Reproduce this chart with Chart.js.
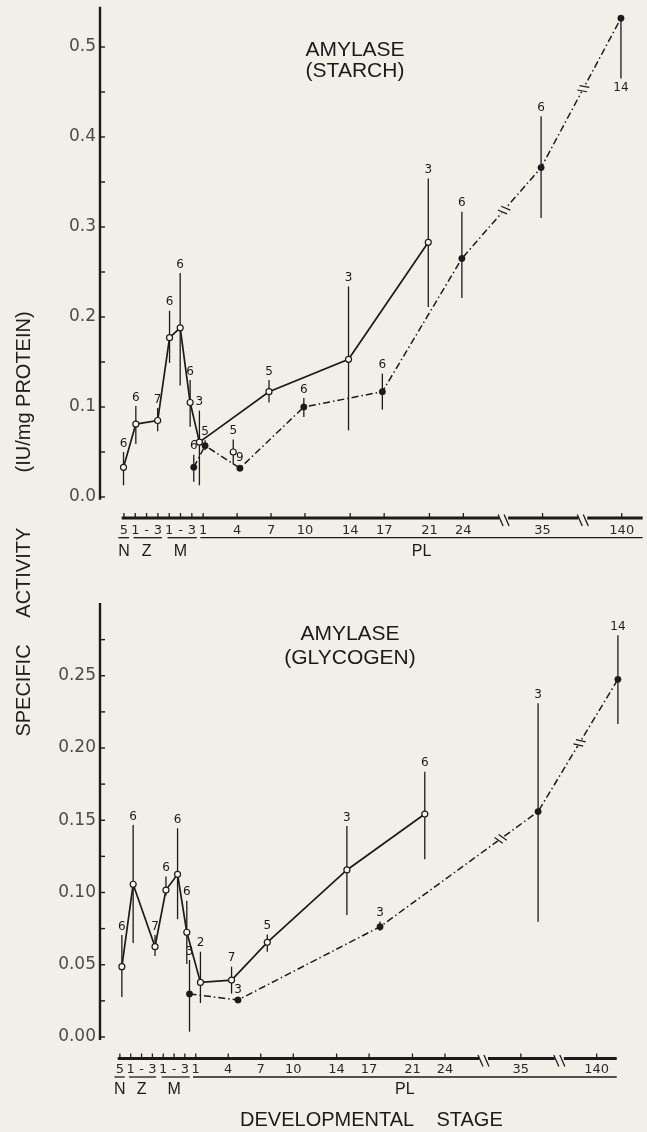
<!DOCTYPE html>
<html>
<head>
<meta charset="utf-8">
<script src="https://cdn.jsdelivr.net/npm/chart.js@4.4.1/dist/chart.umd.min.js"></script>
<style>
html,body{margin:0;padding:0;background:#f2efe9;}
body{width:647px;height:1132px;position:relative;overflow:hidden;}
canvas{position:absolute;left:0;background:#f2efe9;}
#c1{top:0;}
#c2{top:565px;}
#ytitle{position:absolute;left:-197px;top:514px;width:440px;height:20px;line-height:20px;
  font-family:"Liberation Sans",Arial,sans-serif;font-size:20px;color:#1d1d1d;text-align:center;
  white-space:pre;transform:rotate(-90deg);z-index:5;}
</style>
</head>
<body>
<canvas id="c1" width="647" height="565"></canvas>
<canvas id="c2" width="647" height="567"></canvas>
<div id="ytitle">SPECIFIC     ACTIVITY          (IU/mg PROTEIN)</div>
<script>
// ---------------- data ----------------
// developmental stage axis (categories and their stage coordinate)
const stageLabels = ['5','1','-','3','1','-','3','1','4','7','10','14','17','21','24','35','140'];
const stagePos    = [0,1,2,3,4,5,6,7,10,13,16,20,23,27,30,37,44];
const groupNames  = ['N','Z','M','PL'];
const groupStart  = [-0.5,0.85,3.85,6.75];
const groupEnd    = [0.45,3.35,6.45,45.85];
const groupCentre = [0,2,5,26.3];
const axisBreaks  = [33.6,40.6];

// y ticks
const starchYTicks  = [0,0.05,0.1,0.15,0.2,0.25,0.3,0.35,0.4,0.45,0.5];
const starchYLabels = ['0.0','','0.1','','0.2','','0.3','','0.4','','0.5'];
const glycYTicks    = [0,0.025,0.05,0.075,0.1,0.125,0.15,0.175,0.2,0.225,0.25,0.275];
const glycYLabels   = ['0.00','','0.05','','0.10','','0.15','','0.20','','0.25',''];

// AMYLASE (STARCH) - open circles, solid line
const starchOpenStage = [-0.04,1.05,2.98,4.03,4.97,5.85,6.67,12.82,19.85,26.9];
const starchOpenMean  = [0.033,0.081,0.085,0.177,0.188,0.105,0.061,0.117,0.153,0.283];
const starchOpenHigh  = [0.050,0.101,0.099,0.207,0.249,0.130,0.096,0.130,0.234,0.354];
const starchOpenLow   = [0.013,0.059,0.073,0.149,0.124,0.078,0.013,0.105,0.074,0.211];
const starchOpenN     = [6,6,7,6,6,6,3,5,3,3];
// AMYLASE (STARCH) - isolated open circle
const starchOpen2Stage = [9.66];
const starchOpen2Mean  = [0.050];
const starchOpen2High  = [0.064];
const starchOpen2Low   = [0.036];
const starchOpen2N     = [5];
// AMYLASE (STARCH) - filled circles, dash-dot line
const starchFilledStage = [6.17,7.17,10.25,15.9,22.84,29.87,36.87,43.93];
const starchFilledMean  = [0.033,0.057,0.032,0.100,0.117,0.265,0.366,0.532];
const starchFilledHigh  = [0.047,0.063,0.032,0.110,0.137,0.317,0.423,0.532];
const starchFilledLow   = [0.017,0.052,0.032,0.089,0.097,0.221,0.310,0.465];
const starchFilledN     = [6,5,9,6,6,6,6,14];

// AMYLASE (GLYCOGEN) - open circles, solid line
const glycOpenStage = [0,1.0,2.94,3.91,4.94,5.76,6.97,9.73,12.9,19.96,26.87];
const glycOpenMean  = [0.0487,0.1057,0.0625,0.1017,0.1126,0.0725,0.0378,0.0394,0.0655,0.1156,0.1543];
const glycOpenHigh  = [0.0706,0.1467,0.0706,0.111,0.1444,0.0943,0.059,0.0487,0.071,0.146,0.1836];
const glycOpenLow   = [0.0277,0.065,0.056,0.098,0.0815,0.0505,0.0235,0.030,0.059,0.0844,0.123];
const glycOpenN     = [6,6,7,6,6,6,2,7,5,3,6];
// AMYLASE (GLYCOGEN) - filled circles, dash-dot line
const glycFilledStage = [6.0,10.3,22.9,36.92,44.0];
const glycFilledMean  = [0.0298,0.0256,0.0763,0.156,0.2475];
const glycFilledHigh  = [0.0533,0.0256,0.080,0.231,0.278];
const glycFilledLow   = [0.0037,0.0256,0.0736,0.0798,0.2166];
const glycFilledN     = [3,3,3,3,14];

// ---------------- styling ----------------
const BG = '#f2efe9';
const INK = '#1b1b1b';
const OPEN_FILL = '#f9f7f2';
Chart.defaults.font.family = '"Liberation Sans", Arial, sans-serif';

const openStyle = {showLine:true, borderColor:INK, borderWidth:1.7, pointRadius:3, pointHoverRadius:3,
  pointBackgroundColor:OPEN_FILL, pointBorderColor:INK, pointBorderWidth:1.2, clip:false, tension:0};
const filledStyle = {showLine:true, borderColor:INK, borderWidth:1.5, borderDash:[7,3,1.5,3], pointRadius:3.2,
  pointHoverRadius:3.2, pointBackgroundColor:INK, pointBorderColor:INK, pointBorderWidth:0.5, clip:false, tension:0};

function series(stage, mean, high, low, n, style, extra) {
  return Object.assign({
    data: stage.map((s,i)=>({x:s, y:mean[i]})),
    xAxisID:'x', yAxisID:'y'
  }, style, extra || {}, {_hi:high, _lo:low, _n:n});
}

function line(ctx, x1, y1, x2, y2) { ctx.beginPath(); ctx.moveTo(x1,y1); ctx.lineTo(x2,y2); ctx.stroke(); }

function buildChart(id, cfg) {
  const decor = {
    id:'decor',
    beforeDatasetsDraw(chart) {
      const ctx = chart.ctx, xs = chart.scales.x, ys = chart.scales.y;
      ctx.save(); ctx.strokeStyle = INK; ctx.lineWidth = 1.3; ctx.setLineDash([]);
      chart.data.datasets.forEach(ds => {
        ds.data.forEach((p,i) => {
          const hi = ds._hi[i], lo = ds._lo[i];
          if (hi === lo) return;
          const px = xs.getPixelForValue(p.x);
          line(ctx, px, ys.getPixelForValue(hi), px, ys.getPixelForValue(lo));
        });
      });
      ctx.restore();
    },
    afterDatasetsDraw(chart) {
      const ctx = chart.ctx, xs = chart.scales.x, ys = chart.scales.y;
      ctx.save();
      // breaks on the dash-dot lines
      chart.data.datasets.forEach(ds => {
        if (!ds._breaks) return;
        axisBreaks.forEach(b => {
          for (let i = 0; i < ds.data.length - 1; i++) {
            const a = ds.data[i], c = ds.data[i+1];
            if (a.x <= b && b < c.x) {
              const x1 = xs.getPixelForValue(a.x), y1 = ys.getPixelForValue(a.y);
              const x2 = xs.getPixelForValue(c.x), y2 = ys.getPixelForValue(c.y);
              const bx = xs.getPixelForValue(b);
              const t = (bx - x1) / (x2 - x1);
              const px = x1 + t*(x2-x1), py = y1 + t*(y2-y1);
              const ang = Math.atan2(y2-y1, x2-x1);
              const dx = Math.cos(ang), dy = Math.sin(ang);
              ctx.setLineDash([]);
              ctx.strokeStyle = BG; ctx.lineWidth = 4;
              line(ctx, px-3.5*dx, py-3.5*dy, px+3.5*dx, py+3.5*dy);
              ctx.strokeStyle = INK; ctx.lineWidth = 1.2;
              const sa = ang + 1.25, sx = Math.cos(sa)*5, sy = Math.sin(sa)*5;
              [-2.5, 2.5].forEach(o => {
                const cx = px + o*dx, cy = py + o*dy;
                line(ctx, cx - sx, cy - sy, cx + sx, cy + sy);
              });
            }
          }
        });
      });
      // sample sizes
      ctx.fillStyle = INK; ctx.font = '12px "DejaVu Sans"'; ctx.textAlign = 'center'; ctx.textBaseline = 'middle';
      chart.data.datasets.forEach(ds => {
        ds.data.forEach((p,i) => {
          const hi = ds._hi[i], lo = ds._lo[i];
          const px = xs.getPixelForValue(p.x);
          let py;
          if (hi > p.y) py = ys.getPixelForValue(hi) - 8.5;
          else if (lo < p.y) py = ys.getPixelForValue(lo) + 9;
          else py = ys.getPixelForValue(p.y) - 10;
          ctx.fillText(String(ds._n[i]), px, py);
        });
      });
      ctx.restore();
    },
    afterDraw(chart) {
      const ctx = chart.ctx, ys = chart.scales.y, ax = chart.scales[cfg.axisId], ca = chart.chartArea;
      ctx.save(); ctx.setLineDash([]); ctx.strokeStyle = INK; ctx.fillStyle = INK;
      // y axis
      ctx.lineWidth = 2.4;
      line(ctx, ca.left, ys.getPixelForValue(cfg.yTop), ca.left, ys.getPixelForValue(cfg.yBottom));
      ctx.lineWidth = 1.4;
      cfg.yTicks.forEach(v => { const py = ys.getPixelForValue(v); line(ctx, ca.left, py, ca.left + 5, py); });
      // x axis line with breaks
      const yA = ca.bottom;
      const cuts = axisBreaks.map(b => ax.getPixelForValue(b));
      const s0 = ax.getPixelForValue(-0.2), s1 = ax.getPixelForValue(45.85);
      ctx.lineWidth = 3;
      line(ctx, s0, yA, cuts[0]-5, yA);
      line(ctx, cuts[0]+4, yA, cuts[1]-5, yA);
      line(ctx, cuts[1]+4, yA, s1, yA);
      ctx.lineWidth = 1.3;
      cuts.forEach(c => {
        line(ctx, c-6, yA-3.5, c-1, yA+8);
        line(ctx, c, yA-3.5, c+5, yA+8);
      });
      stagePos.forEach(v => { const px = ax.getPixelForValue(v); line(ctx, px, yA-5, px, yA); });
      // group underlines and names
      ctx.lineWidth = 1.3;
      groupNames.forEach((g,i) => {
        line(ctx, ax.getPixelForValue(groupStart[i]), yA + cfg.underY, ax.getPixelForValue(groupEnd[i]), yA + cfg.underY);
      });
      ctx.font = '16px "Liberation Sans"'; ctx.textAlign = 'center'; ctx.textBaseline = 'middle';
      groupNames.forEach((g,i) => ctx.fillText(g, ax.getPixelForValue(groupCentre[i]), yA + cfg.groupY));
      // panel title
      ctx.font = '21px "Liberation Sans"';
      cfg.title.forEach((t,i) => ctx.fillText(t, cfg.titleX, cfg.titleY[i]));
      ctx.restore();
    }
  };

  const axisOpts = {
    type:'linear', position:'bottom', bounds:'data',
    afterBuildTicks: s => { s.ticks = stagePos.map(v => ({value:v})); },
    afterFit: s => { s.height = cfg.xHeight; },
    grid:{display:false, drawTicks:false}, border:{display:false},
    ticks:{autoSkip:false, maxRotation:0, minRotation:0, padding:cfg.xPad, color:'#2a2a2a',
      font:{family:'"DejaVu Sans"', size:13}, callback:(v,i) => stageLabels[i]}
  };

  const scales = {};
  if (cfg.axisId === 'x') {
    scales.x = Object.assign({}, axisOpts, {min:cfg.xMin, max:cfg.xMax});
  } else {
    scales.x = {type:'linear', display:false, min:cfg.xMin, max:cfg.xMax, bounds:'data'};
    scales.xa = Object.assign({}, axisOpts, {min:cfg.axMin, max:cfg.axMax,
      title:{display:true, text:'DEVELOPMENTAL    STAGE', color:INK,
        font:{family:'"Liberation Sans"', size:20}, padding:{top:0, bottom:0}}});
  }
  scales.y = {
    type:'linear', position:'left', min:cfg.yMin, max:cfg.yMax, bounds:'data',
    afterBuildTicks: s => { s.ticks = cfg.yTicks.map(v => ({value:v})); },
    afterFit: s => { s.width = 100; },
    grid:{display:false, drawTicks:false}, border:{display:false},
    ticks:{autoSkip:false, padding:4, color:'#4c4c4c', font:{family:'"DejaVu Sans"', size:17},
      callback:(v,i) => cfg.yLabels[i]}
  };

  return new Chart(document.getElementById(id), {
    type:'scatter',
    data:{datasets:cfg.datasets},
    options:{
      responsive:false, animation:false, devicePixelRatio:1, events:[],
      layout:{padding:{top:16, right:1, bottom:0, left:0}},
      plugins:{legend:{display:false}, tooltip:{enabled:false}, title:{display:false}},
      scales
    },
    plugins:[decor]
  });
}

// -------- top panel: AMYLASE (STARCH) --------
buildChart('c1', {
  axisId:'x',
  xMin:(100-124.1)/11.38, xMax:(646-124.1)/11.38,
  yMin:(497-518)/900, yMax:(497-16)/900,
  yTicks:starchYTicks, yLabels:starchYLabels, yTop:0.5448, yBottom:-0.003,
  xHeight:47, xPad:5, underY:19.7, groupY:33.7,
  title:['AMYLASE','(STARCH)'], titleX:355, titleY:[50.5,71.5],
  datasets:[
    series(starchOpenStage, starchOpenMean, starchOpenHigh, starchOpenLow, starchOpenN, openStyle),
    series(starchOpen2Stage, starchOpen2Mean, starchOpen2High, starchOpen2Low, starchOpen2N, openStyle, {showLine:false}),
    series(starchFilledStage, starchFilledMean, starchFilledHigh, starchFilledLow, starchFilledN, filledStyle, {_breaks:true})
  ]
});

// -------- bottom panel: AMYLASE (GLYCOGEN) --------
buildChart('c2', {
  axisId:'xa',
  xMin:(100-122)/11.34, xMax:(646-122)/11.34,
  axMin:(100-120)/10.9, axMax:(646-120)/10.9,
  yMin:(472-493.5)/1445, yMax:(472-16)/1445,
  yTicks:glycYTicks, yLabels:glycYLabels, yTop:0.3003, yBottom:-0.002,
  xHeight:73.5, xPad:3, underY:18.5, groupY:31.5,
  title:['AMYLASE','(GLYCOGEN)'], titleX:350, titleY:[69,93],
  datasets:[
    series(glycOpenStage, glycOpenMean, glycOpenHigh, glycOpenLow, glycOpenN, openStyle),
    series(glycFilledStage, glycFilledMean, glycFilledHigh, glycFilledLow, glycFilledN, filledStyle, {_breaks:true})
  ]
});
</script>
</body>
</html>
